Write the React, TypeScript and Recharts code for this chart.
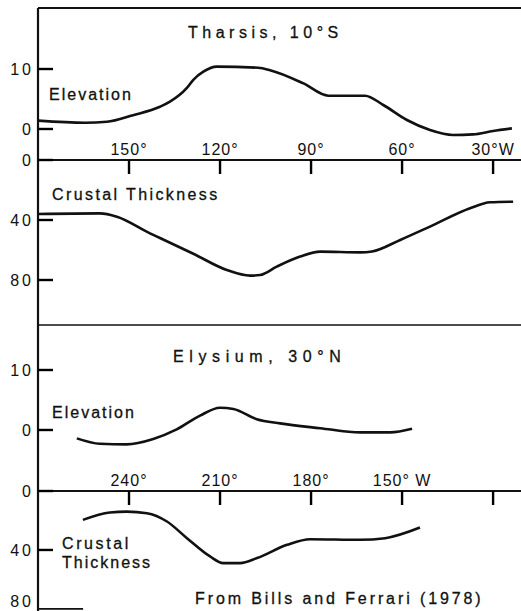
import React from 'react';
import { LineChart, Line, XAxis, YAxis, ReferenceLine } from 'recharts';

// ---- Data (longitude in degrees W) ----
const tharsisElevLon = [180, 164.5, 157.3, 148.7, 139.8, 136.5, 131, 128.8, 125.5, 121.1, 107.4, 103.5, 92.5, 84.3, 72.2, 66.2, 58.4, 50.8, 43.2, 36.6, 30, 23.8];
const tharsisElev = [1.4, 1.05, 1.2, 2.3, 3.7, 4.55, 6.8, 8.2, 9.55, 10.4, 10.2, 9.8, 7.6, 5.55, 5.55, 4.0, 1.5, -0.17, -1.0, -0.9, -0.33, 0.1];

const tharsisCrustLon = [180, 159.6, 154, 143.1, 139.8, 128.8, 117.8, 110.1, 106.8, 101.3, 93.6, 87, 73.8, 69.9, 60.6, 50.8, 37.6, 31, 23.4];
const tharsisCrust = [36, 35.6, 37.8, 48.9, 52, 62.5, 73.3, 77.1, 76.7, 71.1, 64.4, 61.1, 61.6, 61, 53.3, 44.4, 32.2, 28.2, 27.8];

const elysiumElevLon = [257.2, 249.6, 240.8, 232, 224.3, 216.6, 210, 205.6, 197.9, 190.2, 177, 163.8, 153.9, 146.7];
const elysiumElev = [-1.4, -2.3, -2.4, -1.5, 0.1, 2.4, 3.7, 3.5, 1.8, 1.1, 0.3, -0.4, -0.4, 0.2];

const elysiumCrustLon = [255.2, 246.3, 240.7, 234.1, 227.5, 220.9, 213.3, 209, 203.4, 197.8, 187.9, 180.3, 163.8, 155.6, 144.1];
const elysiumCrust = [19.6, 14.6, 14, 15.1, 20.7, 32, 44.4, 48.9, 48.9, 45.5, 36.5, 32.7, 33.1, 32, 24.8];

const tharsisTicks = [150, 120, 90, 60, 30];
const tharsisTickLabels = ['150°', '120°', '90°', '60°', '30°W'];
const elysiumTicks = [240, 210, 180, 150, 120];
const elysiumTickLabels = ['240°', '210°', '180°', '150° W', ''];

const elevTicks = [10, 0];
const crustTicks = [0, 40, 80];
const elyCrustTicks = [0, 40];
const elyCrustBottomTick = 80;
const tharsisCrustRightTicks = [40, 80];
const elyCrustRightTicks = [40];

const titleTharsis = 'Tharsis, 10°S';
const titleElysium = 'Elysium, 30°N';
const labelElevation = 'Elevation';
const labelCrust = 'Crustal Thickness';
const labelCrust1 = 'Crustal';
const labelCrust2 = 'Thickness';
const sourceText = 'From Bills and Ferrari (1978)';

// ---- Layout ----
const W = 521;
const H = 611;
const PAD = 30;
const PLOT_W = 482;
const FONT = '"Liberation Sans", Arial, Helvetica, sans-serif';
const INK = '#111';
const TICK_IN = 15;
const LABEL_GAP = 4;

const zip = (xs: number[], ys: number[]) => xs.map((x, i) => ({ lon: x, v: ys[i] }));

const tickText = { fontFamily: FONT, fontSize: 16, fill: INK, letterSpacing: 3 };
const xTickText = { fontFamily: FONT, fontSize: 16, fill: INK, letterSpacing: 1 };

type PanelProps = {
  top: number;
  bottom: number;
  rows: { lon: number; v: number }[];
  xDomain: [number, number];
  yDomain: [number, number];
  yReversed: boolean;
  leftTicks: number[];
  longTick?: number;
  rightTicks: number[];
  xTicks?: number[];
  xLabels?: string[];
  topBorder?: boolean;
  bottomBorder?: boolean;
};

function Panel(p: PanelProps) {
  const h = p.bottom - p.top;
  const topAxes = p.xTicks ? 1 : 0;
  const [x0, x1] = p.xDomain;
  const degPerPx = (x1 - x0) / PLOT_W;
  const yTop = p.yReversed ? p.yDomain[0] : p.yDomain[1];
  const yBottom = p.yReversed ? p.yDomain[1] : p.yDomain[0];
  return (
    <div style={{ position: 'absolute', left: 0, top: p.top - PAD }}>
      <LineChart
        width={W + 1}
        height={h + 2 * PAD}
        data={p.rows}
        margin={{ top: PAD - topAxes, bottom: PAD, left: 0, right: 0 }}
      >
        {p.xTicks ? (
          <XAxis
            xAxisId="x"
            dataKey="lon"
            type="number"
            domain={p.xDomain}
            reversed
            allowDataOverflow
            orientation="top"
            height={1}
            ticks={p.xTicks}
            interval={0}
            tickSize={-14}
            tickMargin={19}
            tickFormatter={(v: number) => {
              const i = (p.xTicks || []).indexOf(v);
              return i >= 0 ? (p.xLabels || [])[i] : '';
            }}
            tickLine={{ stroke: '#000', strokeWidth: 2.4 }}
            axisLine={{ stroke: INK, strokeWidth: 2 }}
            tick={xTickText}
          />
        ) : (
          <XAxis xAxisId="x" dataKey="lon" type="number" domain={p.xDomain} reversed allowDataOverflow hide />
        )}
        <YAxis
          yAxisId="l"
          type="number"
          width={38}
          domain={p.yDomain}
          reversed={p.yReversed}
          allowDataOverflow
          ticks={p.leftTicks}
          interval={0}
          tickSize={-TICK_IN}
          tickMargin={TICK_IN + LABEL_GAP}
          tickLine={{ stroke: '#000', strokeWidth: 2.4 }}
          axisLine={{ stroke: INK, strokeWidth: 2.2 }}
          tick={tickText}
        />
        <YAxis
          yAxisId="r"
          orientation="right"
          type="number"
          width={1}
          domain={p.yDomain}
          reversed={p.yReversed}
          allowDataOverflow
          ticks={p.rightTicks}
          interval={0}
          tickSize={-12}
          tickMargin={0}
          tickLine={{ stroke: INK, strokeWidth: 1.8 }}
          axisLine={false}
          tick={false}
        />
        {p.topBorder && (
          <ReferenceLine xAxisId="x" yAxisId="l" y={yTop} ifOverflow="visible" stroke={INK} strokeWidth={2} />
        )}
        {p.bottomBorder && (
          <ReferenceLine xAxisId="x" yAxisId="l" y={yBottom} ifOverflow="visible" stroke={INK} strokeWidth={1.6} />
        )}
        {p.longTick !== undefined && (
          <ReferenceLine
            xAxisId="x"
            yAxisId="l"
            ifOverflow="visible"
            segment={[
              { x: x1, y: p.longTick },
              { x: x1 - degPerPx * 45, y: p.longTick },
            ]}
            stroke={INK}
            strokeWidth={1.8}
          />
        )}
        <Line
          xAxisId="x"
          yAxisId="l"
          dataKey="v"
          type="monotone"
          stroke={INK}
          strokeWidth={2.6}
          dot={false}
          isAnimationActive={false}
        />
      </LineChart>
    </div>
  );
}

const txt = (x: number, y: number, s: string, ls = 2) => (
  <text x={x} y={y} fontFamily={FONT} fontSize={16} letterSpacing={ls} fill={INK} stroke={INK} strokeWidth={0.3}>
    {s}
  </text>
);

export default function App() {
  return (
    <div style={{ position: 'absolute', left: 0, top: 0, width: W, height: H, background: '#fff', overflow: 'hidden' }}>
      <svg width={W} height={H} style={{ position: 'absolute', left: 0, top: 0 }}>
        {txt(188, 37.5, titleTharsis, 4.5)}
        {txt(49, 100, labelElevation, 2)}
        {txt(52, 200, labelCrust, 2.4)}
        {txt(173, 361.5, titleElysium, 5.6)}
        {txt(52, 418, labelElevation, 2)}
        {txt(62, 549, labelCrust1, 2.6)}
        {txt(62, 568, labelCrust2, 2)}
        {txt(195, 604, sourceText, 2.9)}
        <text x={34} y={607} textAnchor="end" fontFamily={FONT} fontSize={16} letterSpacing={3} fill={INK}>
          {String(elyCrustBottomTick)}
        </text>
      </svg>
      <Panel
        top={8}
        bottom={160}
        rows={zip(tharsisElevLon, tharsisElev)}
        xDomain={[20.8, 180]}
        yDomain={[-5.17, 20.17]}
        yReversed={false}
        leftTicks={elevTicks}
        rightTicks={elevTicks}
        topBorder
      />
      <Panel
        top={160}
        bottom={325}
        rows={zip(tharsisCrustLon, tharsisCrust)}
        xDomain={[20.8, 180]}
        yDomain={[0, 110]}
        yReversed
        leftTicks={crustTicks}
        rightTicks={tharsisCrustRightTicks}
        xTicks={tharsisTicks}
        xLabels={tharsisTickLabels}
        bottomBorder
      />
      <Panel
        top={325}
        bottom={491}
        rows={zip(elysiumElevLon, elysiumElev)}
        xDomain={[110.8, 270]}
        yDomain={[-10.17, 17.5]}
        yReversed={false}
        leftTicks={elevTicks}
        rightTicks={elevTicks}
      />
      <Panel
        top={491}
        bottom={611}
        rows={zip(elysiumCrustLon, elysiumCrust)}
        xDomain={[110.8, 270]}
        yDomain={[0, 81.4]}
        yReversed
        leftTicks={elyCrustTicks}
        longTick={elyCrustBottomTick}
        rightTicks={elyCrustRightTicks}
        xTicks={elysiumTicks}
        xLabels={elysiumTickLabels}
      />
    </div>
  );
}
